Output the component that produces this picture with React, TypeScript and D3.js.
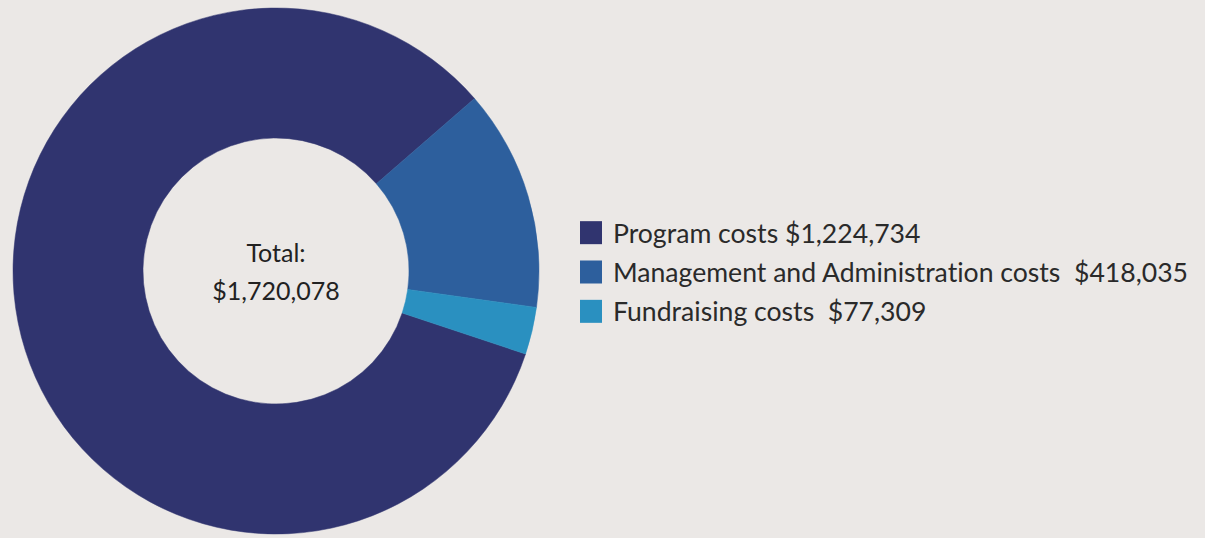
import React from "react";
import * as d3 from "d3";

// categories and amounts as printed in the legend
const categories = ["Program costs", "Management and Administration costs", "Fundraising costs"];
const amounts = ["$1,224,734", "$418,035", "$77,309"];
const amountGap = [" ", "  ", "  "];
// slice shares as drawn in the picture (percent of the ring)
const shares = [83.5, 13.6, 2.9];
const colors = ["#30346f", "#2d5f9d", "#2a90c0"];
const totalLabel = ["Total:", "$1,720,078"];

const W = 1205;
const H = 538;

const App = () => {
  const cx = 276;
  const cy = 271;
  const outerR = 263;
  const innerR = 133;

  const pie = d3
    .pie<number>()
    .sort(null)
    .value((d) => d)
    .startAngle((108.4 * Math.PI) / 180)
    .endAngle((108.4 * Math.PI) / 180 + 2 * Math.PI);
  const arcs = pie(shares);
  const arc = d3.arc<d3.PieArcDatum<number>>().innerRadius(innerR).outerRadius(outerR);

  const legendY = d3.scaleBand().domain(categories).range([213, 331]);

  return (
    <svg
      width={W}
      height={H}
      style={{ position: "fixed", left: 0, top: 0, display: "block", fontVariantLigatures: "none" }}
      fontFamily="Lato, 'Open Sans', sans-serif"
    >
      <rect width={W} height={H} fill="#ebe8e6" />
      <g transform={`translate(${cx},${cy})`}>
        {arcs.map((a, i) => (
          <path key={i} d={arc(a) || ""} fill={colors[i]} stroke={colors[i]} strokeWidth={0.5} />
        ))}
        <text y={-9} textAnchor="middle" fontSize={25} fill="#222">
          {totalLabel[0]}
        </text>
        <text y={29} textAnchor="middle" fontSize={25} fill="#222">
          {totalLabel[1]}
        </text>
      </g>
      {categories.map((c, i) => {
        const y = (legendY(c) || 0) + legendY.bandwidth() / 2;
        return (
          <g key={c}>
            <rect x={580} y={y - 11.5} width={22} height={23} fill={colors[i]} />
            <text x={613} y={y + 10} fontSize={26.6} fill="#2a2a2a" style={{ whiteSpace: "pre" }}>
              {c + amountGap[i] + amounts[i]}
            </text>
          </g>
        );
      })}
    </svg>
  );
};

export default App;
